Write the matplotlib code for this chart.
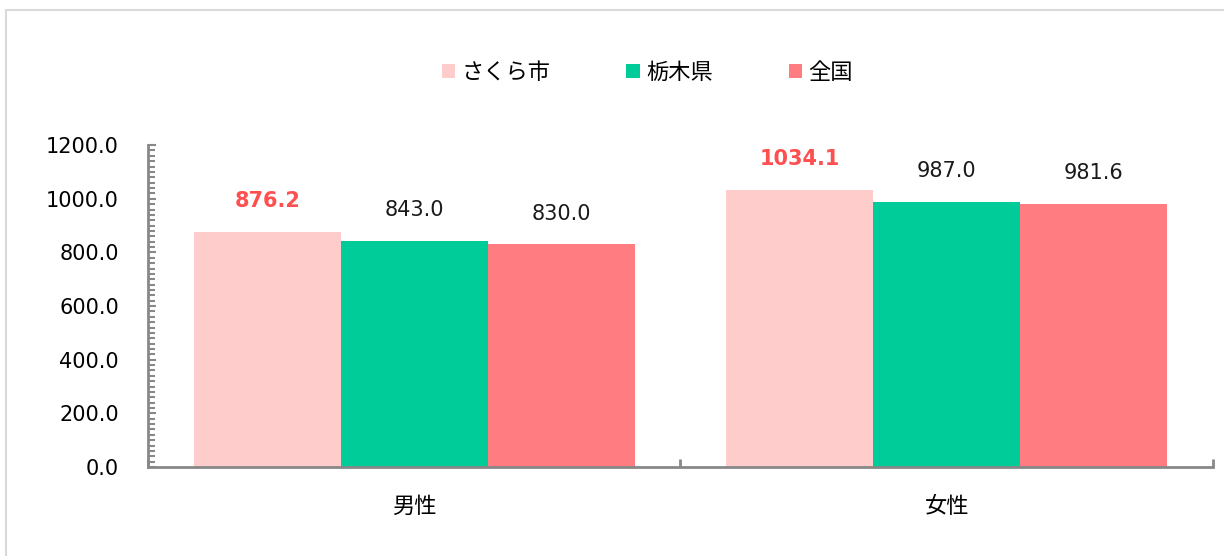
import matplotlib.pyplot as plt
import matplotlib.patches as mpatches
from matplotlib.ticker import MultipleLocator
import numpy as np

plt.rcParams['font.family'] = ['DejaVu Sans', 'Noto Sans CJK JP']

categories = ['男性', '女性']
series_names = ['さくら市', '栃木県', '全国']
sakura = [876.2, 1034.1]
tochigi = [843.0, 987.0]
zenkoku = [830.0, 981.6]
colors = ['#FFCCCC', '#00CC99', '#FF7C80']

fig = plt.figure(figsize=(12.24, 5.56), dpi=100)
ax = fig.add_axes([0.1209, 0.160, 0.870, 0.579])

# frame around the chart area
fig.patches.append(mpatches.Rectangle((0.005, -0.01), 1.0, 0.992, transform=fig.transFigure,
                                      fill=False, edgecolor='#d9d9d9', linewidth=1.5))

x = np.arange(len(categories))
w = 0.276
values = [sakura, tochigi, zenkoku]
for i, (name, vals, c) in enumerate(zip(series_names, values, colors)):
    pos = x + (i - 1) * w
    ax.bar(pos, vals, width=w, color=c, label=name)
    for p, v in zip(pos, vals):
        if i == 0:
            ax.text(p, v + 115, f'{v:.1f}', ha='center', va='center', fontsize=15,
                    color='#FF5050', fontweight='bold')
        else:
            ax.text(p, v + 115, f'{v:.1f}', ha='center', va='center', fontsize=15,
                    color='#1a1a1a')

ax.set_xlim(-0.5, 1.5)
ax.set_ylim(0, 1200)
ax.yaxis.set_major_locator(MultipleLocator(200))
ax.yaxis.set_minor_locator(MultipleLocator(20))
ax.yaxis.set_major_formatter(lambda v, p: f'{v:.1f}')

ax.set_xticks([-0.5, 0.5, 1.5], minor=False)
ax.set_xticklabels([])
ax.set_xticks(x, minor=True)
ax.set_xticklabels(categories, minor=True, fontsize=16, family=['Noto Sans CJK JP'])
ax.tick_params(axis='x', which='minor', length=0, pad=20)
ax.tick_params(axis='x', which='major', direction='in', length=6, width=2, color='#888888')
ax.tick_params(axis='y', which='both', direction='in', width=1.5, color='#888888',
               labelsize=15, pad=21)
ax.tick_params(axis='y', which='major', length=6)
ax.tick_params(axis='y', which='minor', length=5)

for s in ['top', 'right']:
    ax.spines[s].set_visible(False)
for s in ['left', 'bottom']:
    ax.spines[s].set_color('#888888')
    ax.spines[s].set_linewidth(2)

leg = ax.legend(loc='center', bbox_to_anchor=(0.469, 1.227), ncol=3, frameon=False,
                prop={'family': ['Noto Sans CJK JP'], 'size': 16},
                handlelength=0.6, handleheight=0.6, handletextpad=0.3, columnspacing=3.4)

fig.savefig('out.png', dpi=100)
